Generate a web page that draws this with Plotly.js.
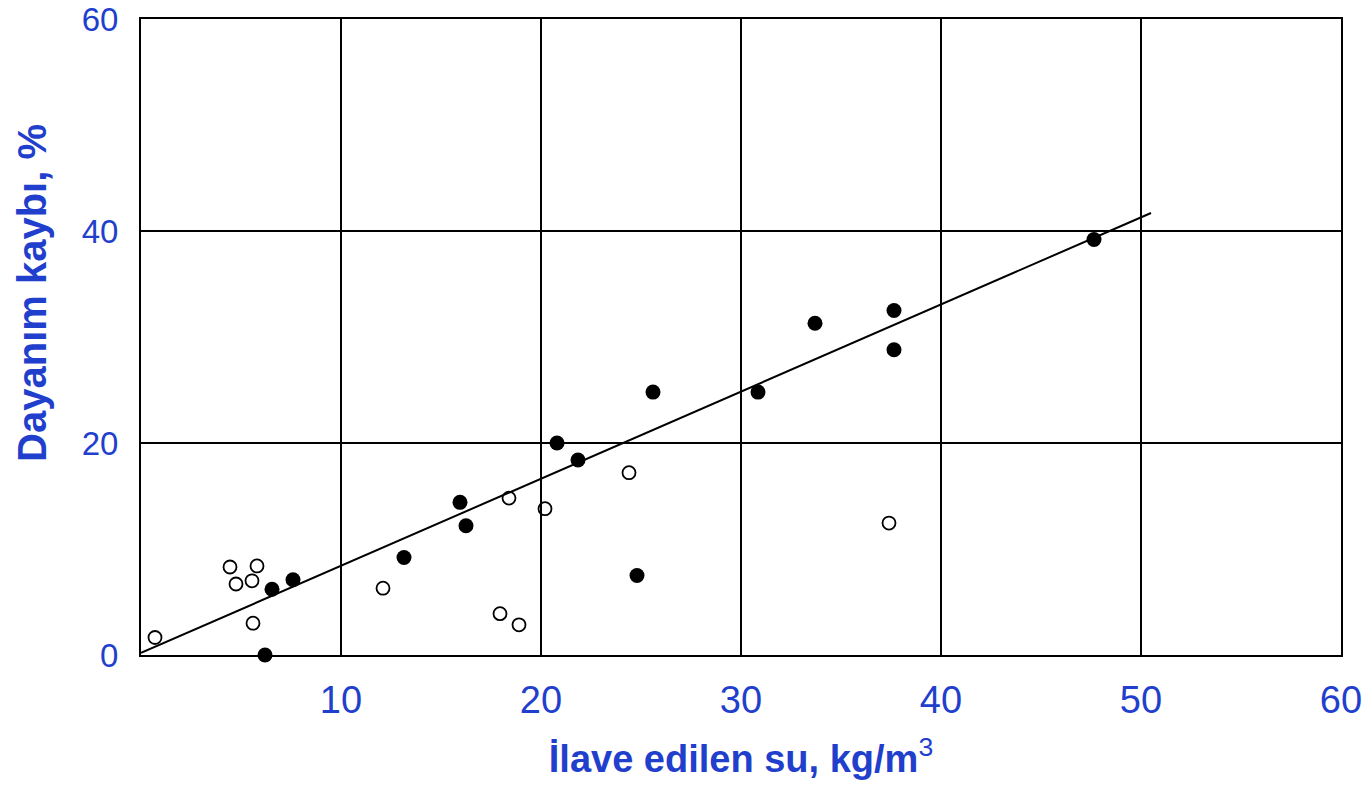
<!DOCTYPE html>
<html>
<head>
<meta charset="utf-8">
<script src="https://cdn.plot.ly/plotly-3.0.1.min.js"></script>
<style>html,body{margin:0;padding:0;background:#fff;}#chart{width:1370px;height:788px;}</style>
</head>
<body>
<div id="chart"></div>
<script>
// Filled circles
const filledX = [6.2, 6.55, 7.6, 13.15, 15.95, 16.25, 20.8, 21.85, 24.8, 25.6, 30.85, 33.7, 37.65, 37.65, 47.65];
const filledY = [0, 6.2, 7.1, 9.2, 14.4, 12.2, 20.0, 18.4, 7.5, 24.8, 24.8, 31.3, 32.5, 28.8, 39.2];
// Open circles
const openX = [0.7, 4.45, 4.75, 5.55, 5.8, 5.6, 12.1, 17.95, 18.9, 18.4, 20.2, 24.4, 37.4];
const openY = [1.65, 8.3, 6.7, 7.0, 8.4, 3.0, 6.3, 3.9, 2.85, 14.8, 13.8, 17.2, 12.45];
// Fitted line
const lineX = [0, 50.5];
const lineY = [0.2, 41.7];
// Ticks
const xTicks = [10, 20, 30, 40, 50, 60];
const yTicks = [0, 20, 40, 60];
// Titles
const xTitle = '<b>İlave edilen su, kg/m</b><sup>3</sup>';
const yTitle = '<b>Dayanım kaybı, %</b>';

const blue = '#1f3fcc';

const traces = [
  {x: lineX, y: lineY, mode: 'lines', type: 'scatter', line: {color: '#000', width: 2}, hoverinfo: 'skip', showlegend: false},
  {x: openX, y: openY, mode: 'markers', type: 'scatter', marker: {symbol: 'circle-open', size: 13, color: '#000', line: {width: 1.8, color: '#000'}}, showlegend: false, cliponaxis: false},
  {x: filledX, y: filledY, mode: 'markers', type: 'scatter', marker: {symbol: 'circle', size: 15, color: '#000'}, showlegend: false, cliponaxis: false}
];

const layout = {
  width: 1370, height: 788,
  margin: {l: 141, r: 29, t: 19, b: 133},
  paper_bgcolor: '#fff', plot_bgcolor: '#fff',
  showlegend: false,
  font: {family: 'Liberation Sans, Arial, sans-serif', color: blue},
  xaxis: {
    range: [0, 60], tickvals: xTicks, ticktext: xTicks.map(String),
    showgrid: true, gridcolor: '#000', gridwidth: 2,
    zeroline: false, showline: true, mirror: true, linecolor: '#000', linewidth: 2,
    ticks: '', ticklabelstandoff: 10, ticklabeloverflow: 'allow',
    tickfont: {family: 'Liberation Sans Narrow, Liberation Sans, Arial', size: 38, color: blue},
    title: {text: xTitle, font: {size: 38, color: blue}, standoff: 26}
  },
  yaxis: {
    range: [0, 60], tickvals: yTicks, ticktext: yTicks.map(String),
    showgrid: true, gridcolor: '#000', gridwidth: 2,
    zeroline: false, showline: true, mirror: true, linecolor: '#000', linewidth: 2,
    ticks: '', ticklabelstandoff: 14, ticklabeloverflow: 'allow',
    tickfont: {family: 'Liberation Sans, Arial', size: 33, color: blue}
  },
  annotations: [{
    text: yTitle, textangle: -90, showarrow: false,
    xref: 'paper', yref: 'paper', x: -0.091, y: 0.569,
    xanchor: 'center', yanchor: 'middle',
    font: {size: 40, color: blue}
  }]
};

Plotly.newPlot('chart', traces, layout, {displayModeBar: false, staticPlot: true});
</script>
</body>
</html>
